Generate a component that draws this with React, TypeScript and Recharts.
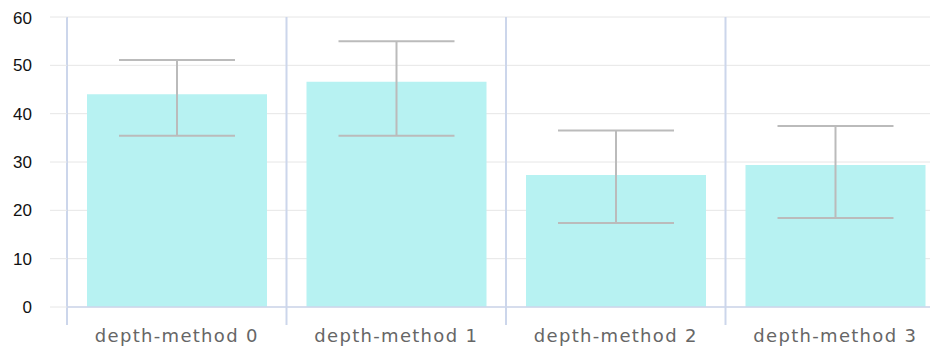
import React from 'react';
import { BarChart, Bar, XAxis, YAxis, CartesianGrid, ErrorBar } from 'recharts';

const categories = ['depth-method 0', 'depth-method 1', 'depth-method 2', 'depth-method 3'];
const means = [44.0, 46.6, 27.3, 29.4];
const lows = [35.45, 35.45, 17.4, 18.4];
const highs = [51.1, 55.0, 36.5, 37.45];
const yTicks = [0, 10, 20, 30, 40, 50, 60];
const boundaryTicks = [0, 1, 2, 3, 4];

const data = categories.map((name, i) => ({
  name,
  pos: i + 0.5,
  mean: means[i],
  err: [means[i] - lows[i], highs[i] - means[i]],
}));

export default function App() {
  return (
    <div style={{ width: 930, height: 340, overflow: 'hidden' }}>
      <BarChart
        width={937}
        height={340}
        data={data}
        margin={{ top: 9, right: 0, bottom: 0, left: 0 }}
        barCategoryGap={0}
      >
        <CartesianGrid xAxisId="a" horizontal={true} vertical={false} stroke="#e6e6e6" strokeWidth={1} />
        <CartesianGrid xAxisId="a" horizontal={false} vertical={true} stroke="#ccd6eb" strokeWidth={2} />
        <XAxis
          xAxisId="a"
          type="number"
          dataKey="pos"
          domain={[0, 4]}
          ticks={boundaryTicks}
          interval={0}
          allowDataOverflow
          height={1}
          tickFormatter={() => ''}
          tickSize={18}
          tickLine={{ stroke: '#ccd6eb', strokeWidth: 2 }}
          axisLine={{ stroke: '#ccd6eb', strokeWidth: 1.5 }}
        />
        <XAxis
          xAxisId="z"
          dataKey="name"
          height={40}
          tickLine={false}
          axisLine={false}
          tickSize={18}
          tickMargin={3}
          interval={0}
          tick={{ fill: '#666666', fontSize: 18, fontFamily: 'DejaVu Sans', letterSpacing: 1.3 }}
        />
        <YAxis
          width={59}
          domain={[0, 60]}
          ticks={yTicks}
          allowDataOverflow
          axisLine={false}
          tickSize={17}
          tickMargin={18}
          tickLine={{ stroke: '#e6e6e6' }}
          tick={{ fill: '#111111', fontSize: 17, fontFamily: 'Liberation Sans' }}
        />
        <Bar xAxisId="z" dataKey="mean" fill="#b7f2f2" barSize={180} isAnimationActive={false}>
          <ErrorBar dataKey="err" width={58} stroke="#bbbbbb" strokeWidth={2} direction="y" />
        </Bar>
      </BarChart>
    </div>
  );
}
